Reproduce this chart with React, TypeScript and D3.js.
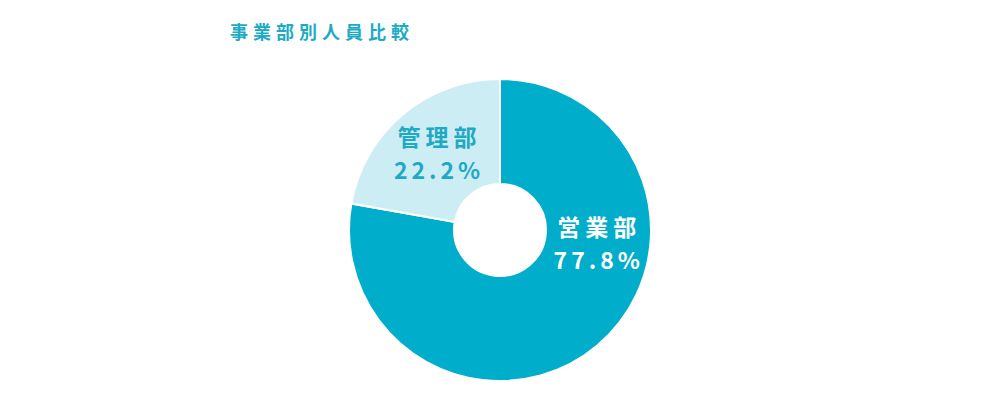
import React, { useEffect, useRef } from 'react';
import * as d3 from 'd3';

// 事業部別データ
const departments = ['営業部', '管理部'];
const shares = [77.8, 22.2];
const sliceColors = ['#00adca', '#cdedf4'];
const labelColors = ['#ffffff', '#1fa9c4'];
const chartTitle = '事業部別人員比較';

const WIDTH = 1000;
const HEIGHT = 420;

type Slice = { name: string; value: number; i: number };

const App: React.FC = () => {
  const svgRef = useRef<SVGSVGElement>(null);

  useEffect(() => {
    document.body.style.margin = '0';
    if (!svgRef.current) return;

    const svg = d3.select(svgRef.current);
    svg.selectAll('*').remove();

    const cx = 500;
    const cy = 230;
    const outerR = 151;
    const innerR = 46;
    const labelR = 98;
    const font = "'Noto Sans CJK JP', 'Noto Sans', sans-serif";

    // タイトル
    svg
      .append('text')
      .attr('x', 230)
      .attr('y', 39)
      .attr('fill', '#1aabc5')
      .style('font-family', font)
      .style('font-size', '18px')
      .style('font-weight', 700)
      .style('letter-spacing', '5px')
      .text(chartTitle);

    const data: Slice[] = departments.map((name, i) => ({ name, value: shares[i], i }));

    const pie = d3
      .pie<Slice>()
      .value((d) => d.value)
      .sort(null);

    const arcs = pie(data);

    const arc = d3
      .arc<d3.PieArcDatum<Slice>>()
      .innerRadius(innerR)
      .outerRadius(outerR);

    const g = svg.append('g').attr('transform', `translate(${cx},${cy})`);

    g.selectAll('path')
      .data(arcs)
      .enter()
      .append('path')
      .attr('d', arc)
      .attr('fill', (d) => sliceColors[d.data.i])
      .attr('stroke', '#ffffff')
      .attr('stroke-width', 2);

    // ラベル位置: 大きいスライスは右側に寄せる
    const labelAngle = (d: d3.PieArcDatum<Slice>) =>
      d.data.i === 0 ? (99 * Math.PI) / 180 : (d.startAngle + d.endAngle) / 2;

    const labels = g
      .selectAll('g.label')
      .data(arcs)
      .enter()
      .append('g')
      .attr('class', 'label')
      .attr('transform', (d) => {
        const a = labelAngle(d);
        return `translate(${Math.sin(a) * labelR},${-Math.cos(a) * labelR})`;
      });

    labels
      .append('text')
      .attr('y', -9)
      .attr('dx', 2.5)
      .attr('text-anchor', 'middle')
      .attr('fill', (d) => labelColors[d.data.i])
      .style('font-family', font)
      .style('font-size', '23px')
      .style('font-weight', 700)
      .style('letter-spacing', '5px')
      .text((d) => d.data.name);

    labels
      .append('text')
      .attr('y', 24)
      .attr('dx', 2)
      .attr('text-anchor', 'middle')
      .attr('fill', (d) => labelColors[d.data.i])
      .style('font-family', font)
      .style('font-size', '23px')
      .style('font-weight', 700)
      .style('letter-spacing', '4px')
      .text((d) => `${d.data.value.toFixed(1)}%`);
  }, []);

  return <svg ref={svgRef} width={WIDTH} height={HEIGHT} style={{ display: 'block' }} />;
};

export default App;
